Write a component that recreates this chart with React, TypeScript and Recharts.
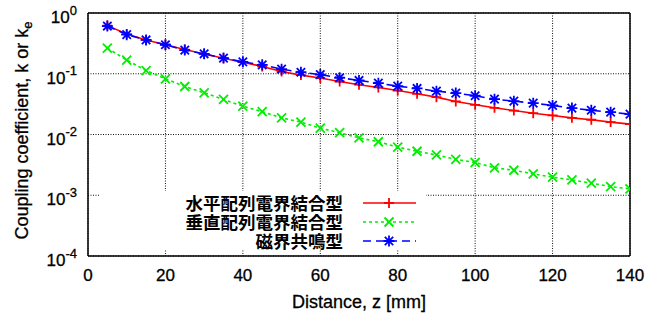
import React from 'react';
import { LineChart, Line, XAxis, YAxis, CartesianGrid } from 'recharts';

// distance z [mm]
const distances = [5, 10, 15, 20, 25, 30, 35, 40, 45, 50, 55, 60, 65, 70, 75, 80, 85, 90, 95, 100, 105, 110, 115, 120, 125, 130, 135, 140];

// 水平配列電界結合型
const horizontalE = [0.62, 0.45, 0.36, 0.3, 0.25, 0.212, 0.18, 0.155, 0.132, 0.109, 0.095, 0.085, 0.0746, 0.066, 0.0595, 0.053, 0.0468, 0.0412, 0.035, 0.0308, 0.0275, 0.0248, 0.0224, 0.0206, 0.0188, 0.0175, 0.016, 0.0148];
// 垂直配列電界結合型
const verticalE = [0.264, 0.168, 0.113, 0.0826, 0.0617, 0.0486, 0.0377, 0.0293, 0.0237, 0.0188, 0.016, 0.0127, 0.0107, 0.0088, 0.0076, 0.0062, 0.0053, 0.0046, 0.0039, 0.00346, 0.00283, 0.00258, 0.00225, 0.00198, 0.00179, 0.00158, 0.00139, 0.00127];
// 磁界共鳴型
const magneticRes = [0.61, 0.44, 0.36, 0.3, 0.245, 0.213, 0.181, 0.157, 0.14, 0.119, 0.106, 0.097, 0.086, 0.0776, 0.07, 0.0625, 0.0573, 0.0517, 0.048, 0.0434, 0.0382, 0.0354, 0.0328, 0.0301, 0.0272, 0.0251, 0.0233, 0.0216];

const seriesNames = ['水平配列電界結合型', '垂直配列電界結合型', '磁界共鳴型'];
const xTicks = [0, 20, 40, 60, 80, 100, 120, 140];
const yTicks = [1e-4, 1e-3, 1e-2, 1e-1, 1];
const yExponents = ['-4', '-3', '-2', '-1', '0'];
const yMinorTicks = [-4, -3, -2, -1].flatMap((d) => [2, 3, 4, 5, 6, 7, 8, 9].map((m) => m * Math.pow(10, d)));

const data = distances.map((z, i) => ({
  z,
  h: horizontalE[i],
  v: verticalE[i],
  m: magneticRes[i],
}));

const FONT = '"Liberation Sans", Arial, Helvetica, sans-serif';
const RED = '#ff0000';
const GREEN = '#00ee00';
const BLUE = '#0000ff';
// slight outline so the Helvetica-ish labels read as heavy as the original
const INK = { fill: '#000', stroke: '#000', strokeWidth: 0.3 };

const plusPath = (x: number, y: number, r: number) => `M${x - r},${y}H${x + r}M${x},${y - r}V${y + r}`;
const crossPath = (x: number, y: number, r: number) =>
  `M${x - r},${y - r}L${x + r},${y + r}M${x - r},${y + r}L${x + r},${y - r}`;

const markerPath = (kind: string, x: number, y: number) => {
  if (kind === 'plus') return plusPath(x, y, 5);
  if (kind === 'cross') return crossPath(x, y, 4.5);
  return plusPath(x, y, 5.5) + crossPath(x, y, 4.2);
};

const makeDot = (kind: string, color: string) => (p: any) => {
  if (p.cx == null || p.cy == null) return <g key={p.index} />;
  return (
    <path
      key={p.index}
      d={markerPath(kind, p.cx, p.cy)}
      stroke={color}
      strokeWidth={1.8}
      strokeDasharray="none"
      fill="none"
    />
  );
};

const YTick = (props: any) => {
  const { x, y, payload } = props;
  const idx = yTicks.indexOf(payload.value);
  return (
    <text x={x - 11} y={y + 10} textAnchor="end" fontFamily={FONT} fontSize={17} {...INK}>
      <tspan>10</tspan>
      <tspan dy={-8.5} fontSize={13}>{yExponents[idx]}</tspan>
    </text>
  );
};

const XTick = (props: any) => {
  const { x, y, payload } = props;
  return (
    <text x={x} y={y + 25} textAnchor="middle" fontFamily={FONT} fontSize={17} {...INK}>
      {payload.value}
    </text>
  );
};

const XTitle = (props: any) => {
  const vb = props.viewBox;
  return (
    <text x={vb.x + vb.width / 2} y={vb.y + 52} textAnchor="middle" fontFamily={FONT} fontSize={18} {...INK}>
      Distance, z [mm]
    </text>
  );
};

const YTitle = (props: any) => {
  const vb = props.viewBox;
  const cx = 28;
  const cy = vb.y + vb.height / 2 - 4;
  return (
    <text x={cx} y={cy} transform={`rotate(-90, ${cx}, ${cy})`} textAnchor="middle" fontFamily={FONT} fontSize={18} {...INK}>
      <tspan>Coupling coefficient, k or k</tspan>
      <tspan dy={4} fontSize={13}>e</tspan>
    </text>
  );
};

const legendRows = [
  { name: seriesNames[0], color: RED, dash: 'none', kind: 'plus' },
  { name: seriesNames[1], color: GREEN, dash: '3 3', kind: 'cross' },
  { name: seriesNames[2], color: BLUE, dash: '8 5', kind: 'star' },
];

function KeyBox() {
  return (
    <div style={{ position: 'absolute', left: 99, top: 191, width: 327, height: 58, background: '#fff' }}>
      <svg width={327} height={58} style={{ overflow: 'visible' }}>
        {legendRows.map((r, i) => {
          const cy = 12 + i * 19;
          return (
            <g key={r.name}>
              <text
                x={244}
                y={cy + 7}
                textAnchor="end"
                fontFamily='"Noto Sans CJK JP", "Noto Sans CJK SC", sans-serif'
                fontWeight={700}
                fontSize={17.5}
                fill="#000"
              >
                {r.name}
              </text>
              <line x1={264} x2={317} y1={cy} y2={cy} stroke={r.color} strokeWidth={1.6} strokeDasharray={r.dash} />
              <path d={markerPath(r.kind, 290, cy)} stroke={r.color} strokeWidth={1.8} fill="none" />
            </g>
          );
        })}
      </svg>
    </div>
  );
}

export default function App() {
  return (
    <div style={{ position: 'absolute', left: 0, top: 0, width: 667, height: 320, background: '#fff' }}>
      <LineChart width={667} height={320} data={data} margin={{ top: 13, right: 37, left: 0, bottom: 0 }}>
        <CartesianGrid xAxisId="x" yAxisId="y" stroke="#111" strokeWidth={1} strokeDasharray="1 1.5" />
        <XAxis
          xAxisId="x"
          dataKey="z"
          type="number"
          domain={[0, 140]}
          ticks={xTicks}
          allowDataOverflow
          height={64}
          tickLine={false}
          tickSize={0}
          tickMargin={0}
          tick={<XTick />}
          axisLine={{ stroke: '#000', strokeWidth: 1.5 }}
          label={{ content: XTitle }}
        />
        <XAxis
          xAxisId="xb"
          type="number"
          domain={[0, 140]}
          ticks={xTicks}
          allowDataOverflow
          mirror
          tick={false}
          tickSize={9}
          tickLine={{ stroke: '#000', strokeWidth: 1.2 }}
          axisLine={false}
        />
        <XAxis
          xAxisId="xt"
          orientation="top"
          type="number"
          domain={[0, 140]}
          ticks={xTicks}
          allowDataOverflow
          mirror
          tick={false}
          tickSize={9}
          tickLine={{ stroke: '#000', strokeWidth: 1.2 }}
          axisLine={{ stroke: '#000', strokeWidth: 1.5 }}
        />
        <YAxis
          yAxisId="y"
          scale="log"
          type="number"
          domain={[1e-4, 1]}
          ticks={yTicks}
          allowDataOverflow
          width={88}
          tickLine={false}
          tickSize={0}
          tickMargin={0}
          tick={<YTick />}
          axisLine={{ stroke: '#000', strokeWidth: 1.5 }}
          label={{ content: YTitle }}
        />
        <YAxis
          yAxisId="ylMaj"
          scale="log"
          type="number"
          domain={[1e-4, 1]}
          ticks={yTicks}
          allowDataOverflow
          mirror
          tick={false}
          tickSize={9}
          tickLine={{ stroke: '#000', strokeWidth: 1.2 }}
          axisLine={false}
        />
        <YAxis
          yAxisId="ylMin"
          scale="log"
          type="number"
          domain={[1e-4, 1]}
          ticks={yMinorTicks}
          allowDataOverflow
          mirror
          tick={false}
          tickSize={5}
          tickLine={{ stroke: '#000', strokeWidth: 1.2 }}
          axisLine={false}
        />
        <YAxis
          yAxisId="yrMaj"
          orientation="right"
          scale="log"
          type="number"
          domain={[1e-4, 1]}
          ticks={yTicks}
          allowDataOverflow
          mirror
          tick={false}
          tickSize={9}
          tickLine={{ stroke: '#000', strokeWidth: 1.2 }}
          axisLine={{ stroke: '#000', strokeWidth: 1.5 }}
        />
        <YAxis
          yAxisId="yrMin"
          orientation="right"
          scale="log"
          type="number"
          domain={[1e-4, 1]}
          ticks={yMinorTicks}
          allowDataOverflow
          mirror
          tick={false}
          tickSize={5}
          tickLine={{ stroke: '#000', strokeWidth: 1.2 }}
          axisLine={false}
        />
        <Line
          xAxisId="x"
          yAxisId="y"
          dataKey="h"
          name={seriesNames[0]}
          stroke={RED}
          strokeWidth={1.6}
          dot={makeDot('plus', RED)}
          isAnimationActive={false}
        />
        <Line
          xAxisId="x"
          yAxisId="y"
          dataKey="v"
          name={seriesNames[1]}
          stroke={GREEN}
          strokeWidth={1.6}
          strokeDasharray="3 3"
          dot={makeDot('cross', GREEN)}
          isAnimationActive={false}
        />
        <Line
          xAxisId="x"
          yAxisId="y"
          dataKey="m"
          name={seriesNames[2]}
          stroke={BLUE}
          strokeWidth={1.6}
          strokeDasharray="8 5"
          dot={makeDot('star', BLUE)}
          isAnimationActive={false}
        />
      </LineChart>
      <KeyBox />
    </div>
  );
}
